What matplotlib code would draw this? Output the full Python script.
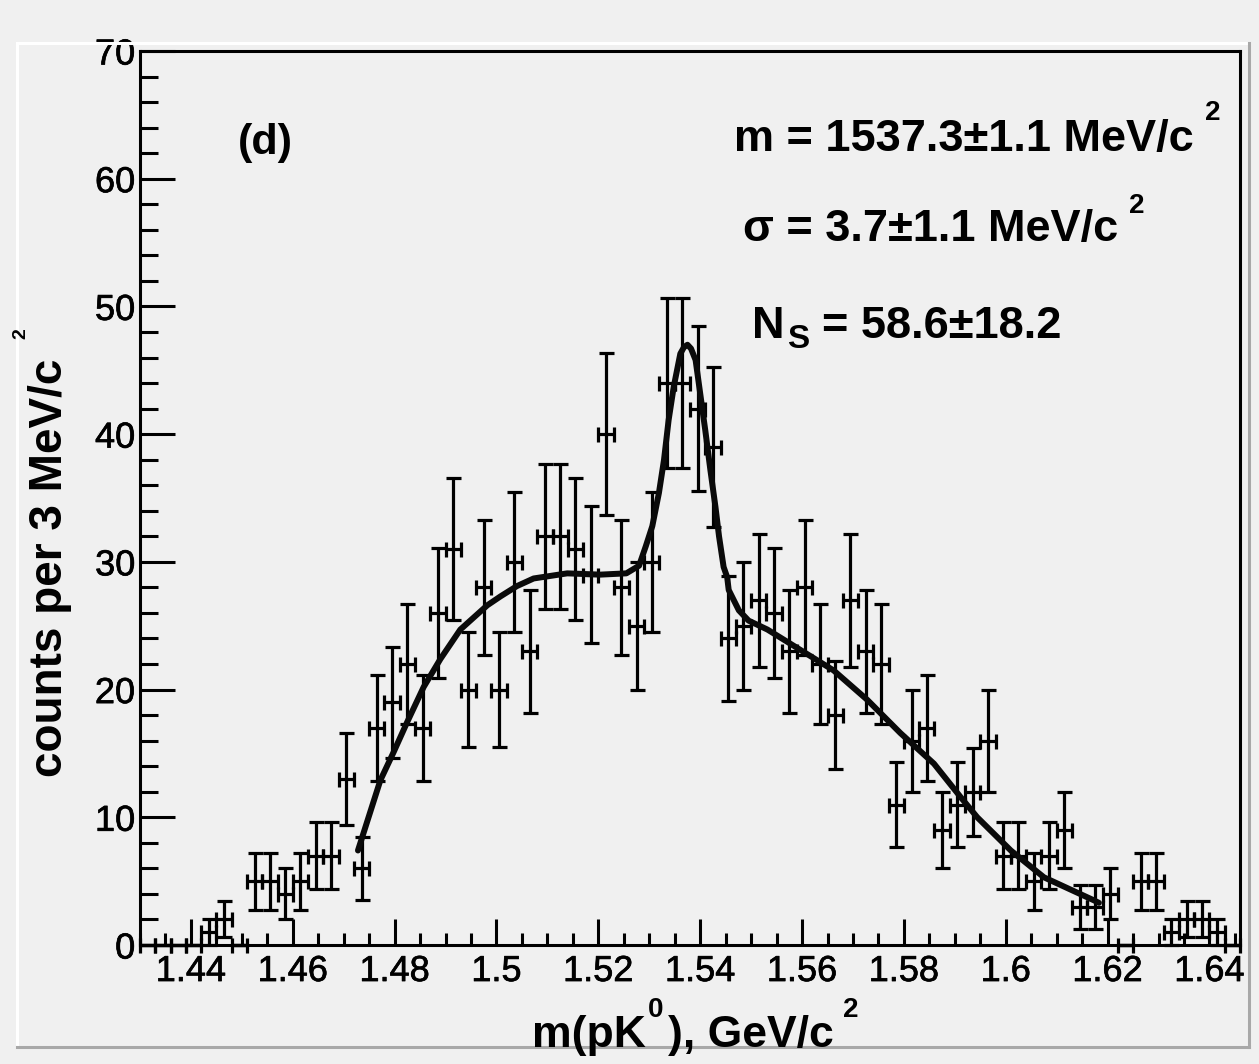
import numpy as np
import matplotlib
matplotlib.use("Agg")
import matplotlib.pyplot as plt
import matplotlib.patheffects as pe
from matplotlib.transforms import IdentityTransform
from matplotlib.ticker import FixedLocator, MultipleLocator, FixedFormatter
from matplotlib.lines import Line2D

# ---------------- data ----------------
bin_centers = [
    1.4315, 1.4345, 1.4375, 1.4405, 1.4435, 1.4465, 1.4495, 1.4525, 1.4555, 1.4585,
    1.4615, 1.4645, 1.4675, 1.4705, 1.4735, 1.4765, 1.4795, 1.4825, 1.4855, 1.4885,
    1.4915, 1.4945, 1.4975, 1.5005, 1.5035, 1.5065, 1.5095, 1.5125, 1.5155, 1.5185,
    1.5215, 1.5245, 1.5275, 1.5305, 1.5335, 1.5365, 1.5395, 1.5425, 1.5455, 1.5485,
    1.5515, 1.5545, 1.5575, 1.5605, 1.5635, 1.5665, 1.5695, 1.5725, 1.5755, 1.5785,
    1.5815, 1.5845, 1.5875, 1.5905, 1.5935, 1.5965, 1.5995, 1.6025, 1.6055, 1.6085,
    1.6115, 1.6145, 1.6175, 1.6205, 1.6235, 1.6265, 1.6295, 1.6325, 1.6355, 1.6385,
    1.6415, 1.6445]
counts = [
    0, 0, 0, 0, 1, 2, 0, 5, 5, 4,
    5, 7, 7, 13, 6, 17, 19, 22, 17, 26,
    31, 20, 28, 20, 30, 23, 32, 32, 31, 29,
    40, 28, 25, 30, 44, 44, 42, 39, 24, 25,
    27, 26, 23, 28, 22, 18, 27, 23, 22, 11,
    16, 17, 9, 11, 12, 16, 7, 7, 5, 7,
    9, 3, 3, 4, 0, 5, 5, 1, 2, 2,
    1, 0]
count_errors = [
    0, 0, 0, 0, 1, 1.41, 0, 2.24, 2.24, 2,
    2.24, 2.65, 2.65, 3.61, 2.45, 4.12, 4.36, 4.69, 4.12, 5.10,
    5.57, 4.47, 5.29, 4.47, 5.48, 4.80, 5.66, 5.66, 5.57, 5.39,
    6.32, 5.29, 5.00, 5.48, 6.63, 6.63, 6.48, 6.24, 4.90, 5.00,
    5.20, 5.10, 4.80, 5.29, 4.69, 4.24, 5.20, 4.80, 4.69, 3.32,
    4.00, 4.12, 3.00, 3.32, 3.46, 4.00, 2.65, 2.65, 2.24, 2.65,
    3.00, 1.73, 1.73, 2.00, 0, 2.24, 2.24, 1.00, 1.41, 1.41,
    1.00, 0]
half_bin_width = 0.0015

fit_mass = [
    1.4728, 1.4752, 1.4772, 1.4798, 1.4824, 1.4857, 1.4890, 1.4929, 1.4982,
    1.5008, 1.5040, 1.5073, 1.5139, 1.5204, 1.5255, 1.5280, 1.5293, 1.5306, 1.5319,
    1.5329, 1.5338, 1.5348, 1.5361, 1.5368, 1.5375, 1.5382, 1.5391, 1.5401, 1.5410,
    1.5420, 1.5430, 1.5437, 1.5446, 1.5453, 1.5456, 1.5476, 1.5495, 1.5532, 1.5597,
    1.5662, 1.5728, 1.5793, 1.5859, 1.5911, 1.5944, 1.6010, 1.6075, 1.6173, 1.6183]
fit_counts = [
    7.4, 10.4, 12.9, 15.1, 17.4, 20.2, 22.4, 24.7, 26.6,
    27.3, 28.1, 28.7, 29.1, 29.0, 29.1, 29.7, 31.2, 32.8, 35.4,
    38.0, 41.1, 43.7, 46.3, 46.8, 47.0, 46.7, 45.8, 42.9, 40.3,
    37.2, 34.3, 32.0, 29.6, 28.8, 27.8, 26.2, 25.4, 24.7, 23.1,
    21.5, 19.2, 16.6, 14.2, 11.6, 10.0, 7.4, 5.3, 3.5, 3.3]

x_ticks = [1.44, 1.46, 1.48, 1.50, 1.52, 1.54, 1.56, 1.58, 1.60, 1.62, 1.64]
x_tick_labels = ["1.44", "1.46", "1.48", "1.5", "1.52", "1.54", "1.56", "1.58", "1.6", "1.62", "1.64"]
y_ticks = [0, 10, 20, 30, 40, 50, 60, 70]
y_tick_labels = ["0", "10", "20", "30", "40", "50", "60", "70"]

# ---------------- figure ----------------
W, H = 1259, 1064
BG = "#f0f0f0"
FONT = "Liberation Sans"
plt.rcParams["font.family"] = [FONT, "DejaVu Sans"]

fig = plt.figure(figsize=(W / 100, H / 100), dpi=100, facecolor=BG)
ax = fig.add_axes([140 / W, (H - 945) / H, (1240 - 140) / W, (945 - 51) / H])
ax.set_facecolor(BG)
ax.set_xlim(1.430, 1.646)
ax.set_ylim(0, 70)

for sp in ax.spines.values():
    sp.set_linewidth(2.2)
    sp.set_color("black")

ax.xaxis.set_major_locator(FixedLocator(x_ticks))
ax.xaxis.set_major_formatter(FixedFormatter(x_tick_labels))
ax.xaxis.set_minor_locator(MultipleLocator(0.005))
ax.yaxis.set_major_locator(FixedLocator(y_ticks))
ax.yaxis.set_major_formatter(FixedFormatter(y_tick_labels))
ax.yaxis.set_minor_locator(MultipleLocator(2))

ax.tick_params(axis="x", which="major", direction="in", length=18.7, width=2.2,
               top=False, bottom=True, pad=6.5, labelsize=26)
ax.tick_params(axis="x", which="minor", direction="in", length=8.6, width=2.2,
               top=False, bottom=True)
ax.tick_params(axis="y", which="major", direction="in", length=25, width=2.2,
               right=False, left=True, pad=3.5, labelsize=26)
ax.tick_params(axis="y", which="minor", direction="in", length=13, width=2.2,
               right=False, left=True)
for lab in ax.get_xticklabels() + ax.get_yticklabels():
    lab.set_path_effects([pe.withStroke(linewidth=0.5, foreground="black")])

# data points with error bars
eb = ax.errorbar(bin_centers, counts, xerr=half_bin_width, yerr=count_errors,
                 fmt="none", ecolor="black", elinewidth=2.3, capsize=5.4,
                 capthick=2.3, zorder=3)
for art in eb.get_children():
    art.set_clip_on(False)

# fit curve
ax.plot(fit_mass, fit_counts, color="#0a0a0a", lw=4.3, solid_capstyle="round",
        solid_joinstyle="round", zorder=4)

# ---------------- pad bevel ----------------
T = IdentityTransform()
fig.add_artist(Line2D([17, 1249], [H - 43, H - 43], transform=T, color="white", lw=2.2))
fig.add_artist(Line2D([17, 17], [H - 43, H - 1047], transform=T, color="white", lw=2.2))
fig.add_artist(Line2D([1249, 1249], [H - 43, H - 1047], transform=T, color="#a8a8a8", lw=2.2))
fig.add_artist(Line2D([17, 1249], [H - 1047, H - 1047], transform=T, color="#a8a8a8", lw=2.2))

# ---------------- texts ----------------
renderer = fig.canvas.get_renderer()

def put(x, y, s, size, weight="bold", **kw):
    t = fig.text(x, H - y, s, transform=T, fontsize=size, fontweight=weight,
                 ha=kw.pop("ha", "left"), va=kw.pop("va", "baseline"), **kw)
    return t

def right_edge(t):
    return t.get_window_extent(renderer=renderer).x1

# (d)
put(238, 154, "(d)", 31)

# fit results
t1 = put(734, 151, "m = 1537.3\u00b11.1 MeV/c", 32.5)
put(right_edge(t1) + 11, 120, "2", 20)
t2 = put(743, 241, "\u03c3 = 3.7\u00b11.1 MeV/c", 32.5)
put(right_edge(t2) + 11, 213, "2", 20)
t3 = put(752, 338, "N", 32.5)
t3s = put(right_edge(t3) + 3, 348, "S", 24)
put(right_edge(t3s) + 12, 338, "= 58.6\u00b118.2", 32.5)

# x axis title
a1 = put(532, 1047, "m(pK", 32)
a2 = put(right_edge(a1) + 2, 1017, "0", 20)
a3 = put(right_edge(a2) + 5, 1047, "), GeV/c", 32)
put(right_edge(a3) + 9, 1017, "2", 20)

# y axis title (rotated)
yl = fig.text(62, H - 777, "counts per 3 MeV/c", transform=T, fontsize=33,
              fontweight="bold", rotation=90, rotation_mode="anchor",
              ha="left", va="baseline")
ytop = yl.get_window_extent(renderer=renderer).y1
fig.text(25, ytop + 20, "2", transform=T, fontsize=14, fontweight="bold",
         rotation=90, rotation_mode="anchor", ha="left", va="baseline")

fig.savefig("out.png", dpi=100, facecolor=BG)
